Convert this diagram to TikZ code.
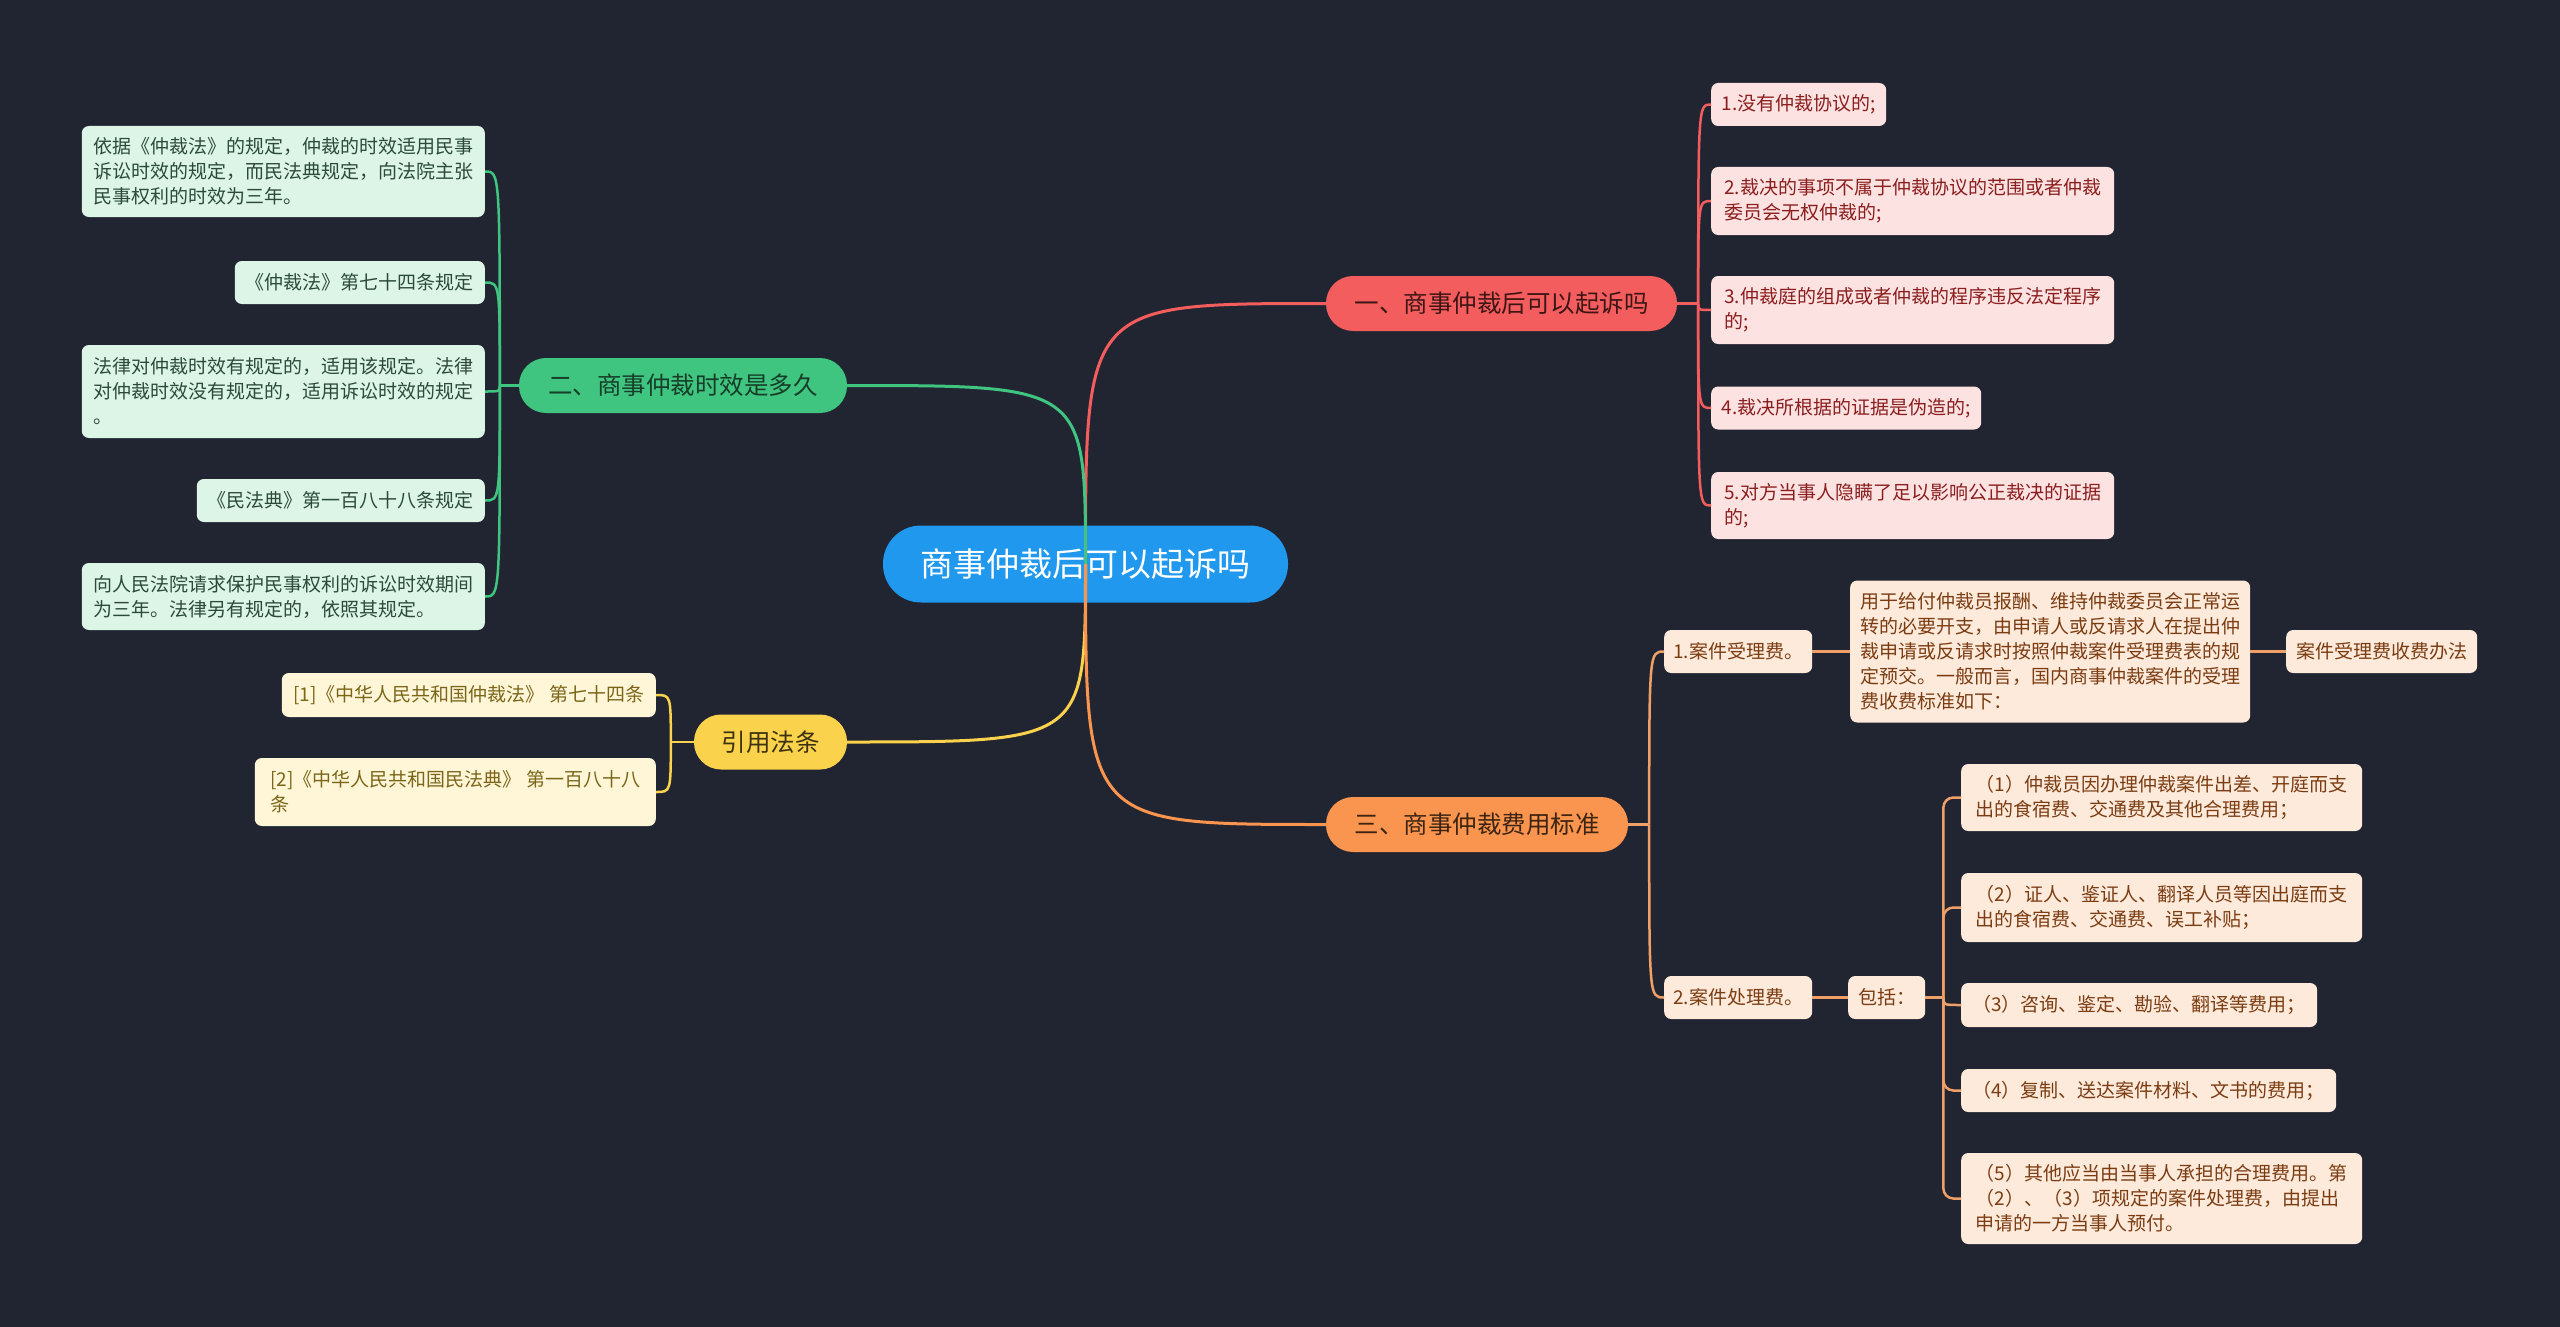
\documentclass[tikz,border=0pt]{standalone}
\usepackage{fontspec}
\setmainfont{Noto Sans CJK SC}
\usetikzlibrary{calc}
\definecolor{bg}{HTML}{212431}
\definecolor{rootc}{HTML}{1F98EE}
\definecolor{redc}{HTML}{F45D5D}
\definecolor{greenc}{HTML}{3FC580}
\definecolor{yellowc}{HTML}{FAD24B}
\definecolor{orangec}{HTML}{FA9550}
\definecolor{rfill}{HTML}{FDE2E2}
\definecolor{rtext}{HTML}{8B1E1E}
\definecolor{gfill}{HTML}{DCF5E7}
\definecolor{gtext}{HTML}{2C4A3A}
\definecolor{yfill}{HTML}{FFF6D8}
\definecolor{ytext}{HTML}{7A6518}
\definecolor{ofill}{HTML}{FDEADB}
\definecolor{otext}{HTML}{7B3C12}
\definecolor{orline}{HTML}{F0A067}
\begin{document}
\begin{tikzpicture}[x=1pt,y=-1pt,
  leafbase/.style={rectangle, rounded corners=7pt, inner xsep=9pt, inner ysep=0pt, align=left, font=\fontsize{19}{25}\selectfont},
  rleaf/.style={leafbase, fill=rfill, text=rtext, anchor=west},
  gleaf/.style={leafbase, fill=gfill, text=gtext, anchor=east},
  yleaf/.style={leafbase, fill=yfill, text=ytext, anchor=east},
  oleaf/.style={leafbase, fill=ofill, text=otext, anchor=west},
  branch/.style={rectangle, rounded corners=27pt, inner sep=0pt, minimum height=55pt, font=\fontsize{24.5}{30}\selectfont},
  mainline/.style={line width=3pt},
  subline/.style={line width=2.5pt}
]
\fill[bg] (0,0) rectangle (2560,1327);
\useasboundingbox (0,0) rectangle (2560,1327);

% root
\node[rectangle, rounded corners=38pt, fill=rootc, text=white, minimum width=405pt, minimum height=77pt, inner sep=0pt, font=\fontsize{33}{40}\selectfont] (root) at (1085.5,564) {商事仲裁后可以起诉吗};

% branches
\node[branch, fill=redc, text={rgb,255:red,61;green,21;blue,21}, minimum width=351pt] (rb) at (1501.5,303.5) {一、商事仲裁后可以起诉吗};
\node[branch, fill=greenc, text={rgb,255:red,22;green,61;blue,40}, minimum width=328pt] (gb) at (683,385.5) {二、商事仲裁时效是多久};
\node[branch, fill=orangec, text={rgb,255:red,61;green,36;blue,16}, minimum width=302pt] (ob) at (1477,824.5) {三、商事仲裁费用标准};
\node[branch, fill=yellowc, text={rgb,255:red,61;green,50;blue,16}, minimum width=153pt] (yb) at (770.5,742) {引用法条};

% red leaves
\node[rleaf, minimum width=175pt, minimum height=43pt] (r1) at (1711,104.5) {1.没有仲裁协议的;};
\node[rleaf, minimum width=403pt, minimum height=68pt] (r2) at (1711,201) {2.裁决的事项不属于仲裁协议的范围或者仲裁\\委员会无权仲裁的;};
\node[rleaf, minimum width=403pt, minimum height=68pt] (r3) at (1711,310) {3.仲裁庭的组成或者仲裁的程序违反法定程序\\的;};
\node[rleaf, minimum width=270pt, minimum height=43pt] (r4) at (1711,408) {4.裁决所根据的证据是伪造的;};
\node[rleaf, minimum width=403pt, minimum height=67pt] (r5) at (1711,505.5) {5.对方当事人隐瞒了足以影响公正裁决的证据\\的;};

% green leaves
\node[gleaf, minimum width=403pt, minimum height=91pt] (g1) at (485,171.5) {依据《仲裁法》的规定，仲裁的时效适用民事\\诉讼时效的规定，而民法典规定，向法院主张\\民事权利的时效为三年。};
\node[gleaf, minimum width=250pt, minimum height=43pt] (g2) at (485,282.5) {《仲裁法》第七十四条规定};
\node[gleaf, minimum width=403pt, minimum height=93pt] (g3) at (485,391.5) {法律对仲裁时效有规定的，适用该规定。法律\\对仲裁时效没有规定的，适用诉讼时效的规定\\。};
\node[gleaf, minimum width=288pt, minimum height=43pt] (g4) at (485,500.5) {《民法典》第一百八十八条规定};
\node[gleaf, minimum width=403pt, minimum height=67pt] (g5) at (485,596.5) {向人民法院请求保护民事权利的诉讼时效期间\\为三年。法律另有规定的，依照其规定。};

% yellow leaves
\node[yleaf, minimum width=374pt, minimum height=44pt] (y1) at (656,695) {[1]《中华人民共和国仲裁法》 第七十四条};
\node[yleaf, minimum width=401pt, minimum height=68pt] (y2) at (656,792) {[2]《中华人民共和国民法典》 第一百八十八\\条};

% orange leaves
\node[oleaf, minimum width=148pt, minimum height=43pt] (o1) at (1664,651.5) {1.案件受理费。};
\node[oleaf, minimum width=400pt, minimum height=142pt] (o1a) at (1850,651.5) {用于给付仲裁员报酬、维持仲裁委员会正常运\\转的必要开支，由申请人或反请求人在提出仲\\裁申请或反请求时按照仲裁案件受理费表的规\\定预交。一般而言，国内商事仲裁案件的受理\\费收费标准如下：};
\node[oleaf, minimum width=191pt, minimum height=43pt] (o1b) at (2286,651.5) {案件受理费收费办法};
\node[oleaf, minimum width=148pt, minimum height=43pt] (o2) at (1664,997.5) {2.案件处理费。};
\node[oleaf, minimum width=77pt, minimum height=43pt] (o2a) at (1848,997.5) {包括：};
\node[oleaf, minimum width=401pt, minimum height=67pt] (p1) at (1961,797.5) {（1）仲裁员因办理仲裁案件出差、开庭而支\\出的食宿费、交通费及其他合理费用；};
\node[oleaf, minimum width=401pt, minimum height=69pt] (p2) at (1961,907.5) {（2）证人、鉴证人、翻译人员等因出庭而支\\出的食宿费、交通费、误工补贴；};
\node[oleaf, minimum width=356pt, minimum height=44pt] (p3) at (1961,1005) {（3）咨询、鉴定、勘验、翻译等费用；};
\node[oleaf, minimum width=375pt, minimum height=43pt] (p4) at (1961,1090.5) {（4）复制、送达案件材料、文书的费用；};
\node[oleaf, minimum width=401pt, minimum height=91pt] (p5) at (1961,1198.5) {（5）其他应当由当事人承担的合理费用。第\\（2）、（3）项规定的案件处理费，由提出\\申请的一方当事人预付。};

% junctions
\coordinate (rj) at ($(rb.east)+(21,0)$);
\coordinate (gj) at ($(gb.west)+(-19,0)$);
\coordinate (yj) at ($(yb.west)+(-23,0)$);
\coordinate (oj) at ($(ob.east)+(21,0)$);
\coordinate (pj) at ($(o2a.east)+(18,0)$);

% main connectors
\draw[mainline, redc] (root.center) .. controls (root.center |- rb.west) .. (rb.west);
\draw[mainline, greenc] (root.center) .. controls (root.center |- gb.east) .. (gb.east);
\draw[mainline, yellowc] (root.center) .. controls (root.center |- yb.east) .. (yb.east);
\draw[mainline, orangec] (root.center) .. controls (root.center |- ob.west) .. (ob.west);

% red sub connectors
\draw[subline, redc] (rb.east) -- (rj);
\foreach \n in {r1,r2,r3,r4,r5}
  \draw[subline, redc] (rj) .. controls (rj |- \n.west) .. (\n.west);

% green sub connectors
\draw[subline, greenc] (gb.west) -- (gj);
\foreach \n in {g1,g2,g3,g4,g5}
  \draw[subline, greenc] (gj) .. controls (gj |- \n.east) .. (\n.east);

% yellow sub connectors
\draw[subline, yellowc] (yb.west) -- (yj);
\foreach \n in {y1,y2}
  \draw[subline, yellowc] (yj) .. controls (yj |- \n.east) .. (\n.east);

% orange sub connectors
\draw[subline, orline] (ob.east) -- (oj);
\foreach \n in {o1,o2}
  \draw[subline, orline] (oj) .. controls (oj |- \n.west) .. (\n.west);
\draw[subline, orline] (o1.east) -- (o1a.west);
\draw[subline, orline] (o1a.east) -- (o1b.west);
\draw[subline, orline] (o2.east) -- (o2a.west);
\draw[subline, orline] (o2a.east) -- (pj);
\foreach \n in {p1,p2,p4,p5}
  \draw[subline, orline, rounded corners=10pt] (pj) |- (\n.west);
\draw[subline, orline] (pj) .. controls (pj |- p3.west) .. (p3.west);
\end{tikzpicture}
\end{document}
